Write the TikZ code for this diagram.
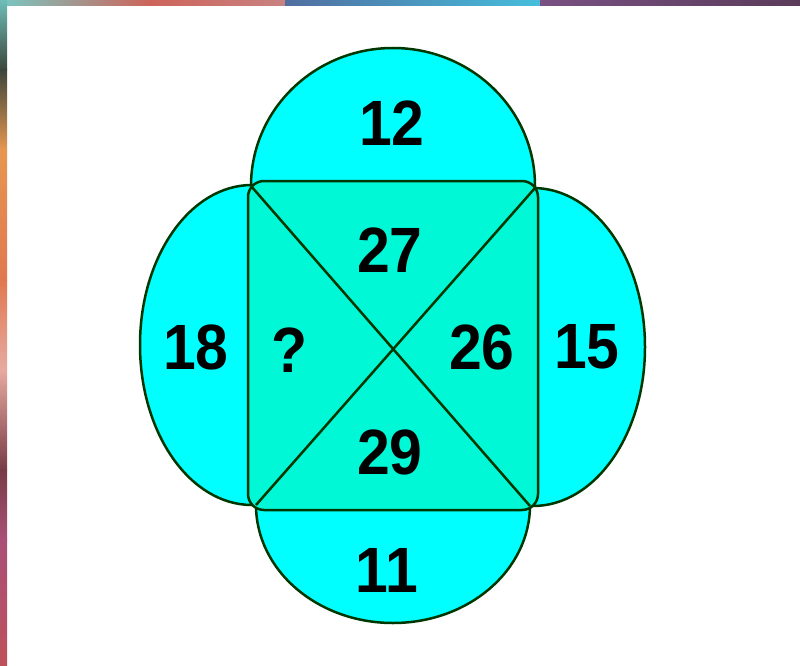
\documentclass[tikz,border=0pt]{standalone}
\usepackage{fontspec}
\setmainfont{Liberation Sans}
\newcommand\numtxt[1]{\scalebox{0.92}[1]{#1}}
\begin{document}
\begin{tikzpicture}[x=1pt,y=-1pt,
  edge/.style={draw={rgb,255:red,0;green,55;blue,0},line width=2.5pt},
  outer/.style={edge,fill={rgb,255:red,0;green,255;blue,255}},
  inner/.style={edge,fill={rgb,255:red,0;green,248;blue,214}},
  num/.style={font=\fontsize{64}{64}\selectfont\bfseries,inner sep=0pt}]
\useasboundingbox (0,0) rectangle (800,666);
% photo border
\fill[white] (0,0) rectangle (800,666);
\shade[left color={rgb,255:red,120;green,200;blue,195},right color={rgb,255:red,205;green,100;blue,90}] (0,0) rectangle (150,6);
\shade[left color={rgb,255:red,205;green,100;blue,90},right color={rgb,255:red,200;green,130;blue,130}] (150,0) rectangle (285,6);
\shade[left color={rgb,255:red,80;green,110;blue,160},right color={rgb,255:red,70;green,190;blue,220}] (285,0) rectangle (540,6);
\shade[left color={rgb,255:red,120;green,80;blue,130},right color={rgb,255:red,90;green,60;blue,90}] (540,0) rectangle (800,6);
\shade[top color={rgb,255:red,110;green,190;blue,185},bottom color={rgb,255:red,60;green,70;blue,60}] (0,0) rectangle (7,70);
\shade[top color={rgb,255:red,60;green,70;blue,60},bottom color={rgb,255:red,230;green,150;blue,80}] (0,70) rectangle (7,150);
\shade[top color={rgb,255:red,230;green,150;blue,80},bottom color={rgb,255:red,225;green,120;blue,80}] (0,150) rectangle (7,280);
\shade[top color={rgb,255:red,225;green,120;blue,80},bottom color={rgb,255:red,230;green,170;blue,160}] (0,280) rectangle (7,370);
\shade[top color={rgb,255:red,230;green,170;blue,160},bottom color={rgb,255:red,120;green,60;blue,70}] (0,370) rectangle (7,470);
\shade[top color={rgb,255:red,120;green,60;blue,70},bottom color={rgb,255:red,170;green,80;blue,120}] (0,470) rectangle (7,540);
\shade[top color={rgb,255:red,170;green,80;blue,120},bottom color={rgb,255:red,190;green,80;blue,90}] (0,540) rectangle (7,666);
% outer ellipses
\draw[outer] (393,186) ellipse [x radius=142pt, y radius=138pt];
\draw[outer] (393,505) ellipse [x radius=137pt, y radius=118pt];
\draw[outer] (252,345) ellipse [x radius=112pt, y radius=160pt];
\draw[outer] (533,347) ellipse [x radius=112pt, y radius=159pt];
% inner square
\draw[inner,rounded corners=16pt] (248,181) rectangle (538,510);
\coordinate (tl) at (251,186);
\coordinate (tr) at (535,188);
\coordinate (bl) at (256,505);
\coordinate (br) at (530,506);
\draw[edge] (tl) -- (br);
\draw[edge] (tr) -- (bl);
% numbers
\node[num] (n12) at (392,123) {\numtxt{12}};
\node[num] (n27) at (390,250) {\numtxt{27}};
\node[num] (n18) at (196,347) {\numtxt{18}};
\node[num] (nq) at (289,350) {\numtxt{?}};
\node[num] (n26) at (482,347) {\numtxt{26}};
\node[num] (n15) at (587,347) {\numtxt{15}};
\node[num] (n29) at (390,452) {\numtxt{29}};
\node[num] (n11) at (387,570) {\numtxt{11}};
\end{tikzpicture}
\end{document}
